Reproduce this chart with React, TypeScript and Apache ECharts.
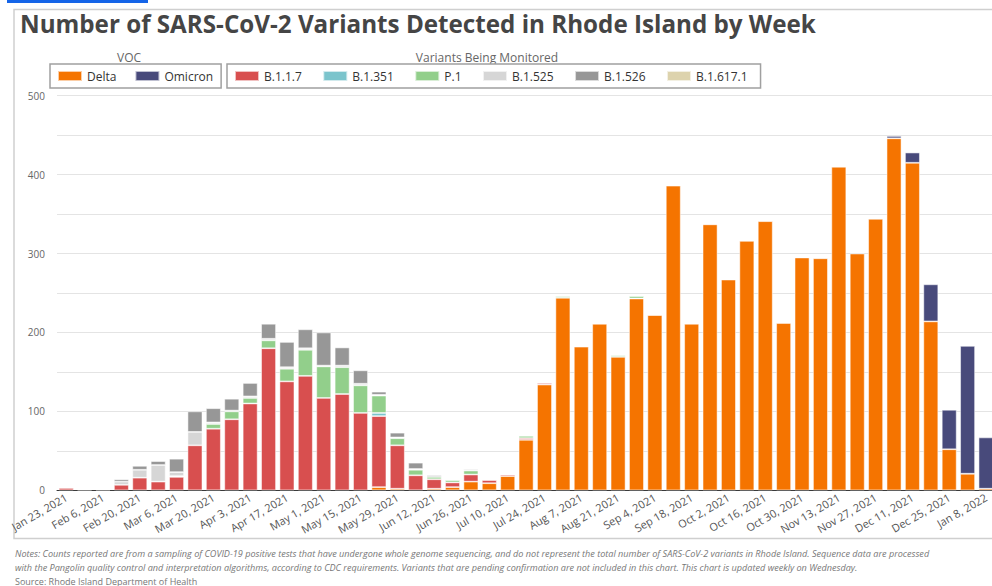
import React, { useEffect, useRef } from "react";
import * as echarts from "echarts";

const weeks = [
  "Jan 23, 2021", "Jan 30, 2021", "Feb 6, 2021", "Feb 13, 2021", "Feb 20, 2021", "Feb 27, 2021",
  "Mar 6, 2021", "Mar 13, 2021", "Mar 20, 2021", "Mar 27, 2021", "Apr 3, 2021", "Apr 10, 2021",
  "Apr 17, 2021", "Apr 24, 2021", "May 1, 2021", "May 8, 2021", "May 15, 2021", "May 22, 2021",
  "May 29, 2021", "Jun 5, 2021", "Jun 12, 2021", "Jun 19, 2021", "Jun 26, 2021", "Jul 3, 2021",
  "Jul 10, 2021", "Jul 17, 2021", "Jul 24, 2021", "Jul 31, 2021", "Aug 7, 2021", "Aug 14, 2021",
  "Aug 21, 2021", "Aug 28, 2021", "Sep 4, 2021", "Sep 11, 2021", "Sep 18, 2021", "Sep 25, 2021",
  "Oct 2, 2021", "Oct 9, 2021", "Oct 16, 2021", "Oct 23, 2021", "Oct 30, 2021", "Nov 6, 2021",
  "Nov 13, 2021", "Nov 20, 2021", "Nov 27, 2021", "Dec 4, 2021", "Dec 11, 2021", "Dec 18, 2021",
  "Dec 25, 2021", "Jan 1, 2022", "Jan 8, 2022",
];

const delta = [
  0, 0, 0, 0, 0, 0, 0, 0, 0, 0, 0, 0, 0, 0, 0, 0, 0, 4, 2, 0, 2, 4, 11, 9, 18, 64,
  134, 244, 182, 211, 169, 243, 222, 386, 211, 337, 267, 316, 341, 212, 295, 294, 410, 300, 344, 446,
  415, 214, 52, 21, 2,
];
const omicron = [
  0, 0, 0, 0, 0, 0, 0, 0, 0, 0, 0, 0, 0, 0, 0, 0, 0, 0, 0, 0, 0, 0, 0, 0, 0, 0,
  0, 0, 0, 0, 0, 0, 0, 0, 0, 0, 0, 0, 0, 0, 0, 0, 0, 0, 0, 3, 13, 47, 50, 162, 65,
];
const b117 = [
  3, 1, 1, 7, 16, 11, 17, 57, 78, 90, 110, 180, 138, 145, 117, 122, 98, 90, 55, 19, 12, 6, 9, 4, 2, 2,
  2, 0, 0, 0, 0, 0, 0, 0, 0, 0, 0, 0, 0, 0, 0, 0, 0, 0, 0, 0, 0, 0, 0, 0, 0,
];
const b1351 = [
  0, 0, 0, 0, 0, 0, 0, 0, 0, 0, 0, 0, 0, 0, 0, 0, 0, 4, 0, 0, 0, 0, 0, 0, 0, 0,
  0, 0, 0, 0, 0, 0, 0, 0, 0, 0, 0, 0, 0, 0, 0, 0, 0, 0, 0, 0, 0, 0, 0, 0, 0,
];
const p1 = [
  0, 0, 0, 0, 0, 0, 1, 0, 6, 10, 7, 10, 16, 33, 40, 34, 35, 22, 9, 7, 3, 3, 5, 0, 1, 3,
  1, 2, 1, 1, 2, 3, 1, 1, 0, 1, 0, 0, 1, 0, 1, 0, 1, 0, 1, 0, 0, 0, 0, 0, 0,
];
const b1525 = [
  0, 1, 0, 4, 10, 21, 5, 17, 2, 1, 2, 2, 2, 2, 1, 2, 2, 1, 1, 1, 0, 1, 2, 0, 0, 0,
  0, 0, 0, 0, 0, 0, 0, 0, 0, 0, 0, 0, 0, 0, 0, 0, 0, 0, 0, 0, 0, 0, 0, 0, 0,
];
const b1526 = [
  1, 1, 1, 3, 5, 5, 17, 26, 18, 15, 17, 19, 32, 24, 42, 23, 17, 4, 6, 8, 2, 0, 0, 1, 0, 0,
  0, 1, 0, 0, 0, 0, 0, 0, 0, 0, 0, 0, 0, 0, 0, 0, 0, 0, 0, 0, 0, 0, 0, 0, 0,
];
const b16171 = [
  0, 0, 0, 0, 0, 0, 0, 0, 0, 0, 0, 0, 0, 0, 0, 0, 0, 0, 0, 0, 0, 0, 0, 0, 0, 0,
  0, 0, 0, 0, 0, 0, 0, 0, 0, 0, 0, 0, 0, 0, 0, 0, 0, 0, 0, 0, 0, 0, 0, 0, 0,
];

const vocNames = ["Delta", "Omicron"];
const monitoredNames = ["B.1.1.7", "B.1.351", "P.1", "B.1.525", "B.1.526", "B.1.617.1"];
const seriesNames = [...vocNames, ...monitoredNames];
const seriesValues = [delta, omicron, b117, b1351, p1, b1525, b1526, b16171];
const seriesColors = ["#f57400", "#484a7b", "#d84f4f", "#7bc4cc", "#92cf8b", "#d6d6d6", "#979797", "#ddd3ad"];

const yTicks = [0, 100, 200, 300, 400, 500];

const titleText = "Number of SARS-CoV-2 Variants Detected in Rhode Island by Week";
const noteLines = [
  "Notes: Counts reported are from a sampling of COVID-19 positive tests that have undergone whole genome sequencing, and do not represent the total number of SARS-CoV-2 variants in Rhode Island. Sequence data are processed",
  "with the Pangolin quality control and interpretation algorithms, according to CDC requirements. Variants that are pending confirmation are not included in this chart. This chart is updated weekly on Wednesday.",
];
const sourceText = "Source: Rhode Island Department of Health";

const FONT = "'Open Sans', 'Noto Sans', sans-serif";

export default function App() {
  const ref = useRef<HTMLDivElement>(null);

  useEffect(() => {
    if (!ref.current) return;
    const chart = echarts.init(ref.current, null, { renderer: "svg" });

    const legendCommon = {
      top: 64,
      orient: "horizontal",
      icon: "rect",
      itemWidth: 24,
      itemHeight: 10,
      borderColor: "#a0a0a0",
      borderWidth: 1.5,
      backgroundColor: "#fff",
      selectedMode: false,
      textStyle: { fontFamily: FONT, fontSize: 12, color: "#333" },
    };

    const option: any = {
      animation: false,
      backgroundColor: "#fff",
      textStyle: { fontFamily: FONT },
      grid: { left: 57, right: 4.8, top: 95.7, bottom: 95.7, containLabel: false },
      legend: [
        { ...legendCommon, data: vocNames, left: 50, padding: [6, 8, 6, 7], itemGap: 18 },
        { ...legendCommon, data: monitoredNames, left: 227, padding: [6, 13, 6, 7], itemGap: 20.5 },
      ],
      xAxis: {
        type: "category",
        data: weeks,
        axisLine: { lineStyle: { color: "#3a3a3a", width: 1 } },
        axisTick: { show: false },
        axisLabel: { interval: 1, rotate: 30, fontSize: 11, color: "#555", margin: 6, fontFamily: FONT },
        splitLine: { show: false },
      },
      yAxis: {
        type: "value",
        min: 0,
        max: 500,
        interval: 50,
        axisLine: { show: false },
        axisTick: { show: false },
        axisLabel: {
          fontSize: 10,
          color: "#666",
          margin: 12,
          fontFamily: FONT,
          formatter: (v: number) => (yTicks.includes(v) ? String(v) : ""),
        },
        splitLine: { lineStyle: { color: "#e4e4e4", width: 1 } },
      },
      series: seriesNames.map((name, i) => ({
        name,
        type: "bar",
        stack: "total",
        barCategoryGap: "19%",
        itemStyle: { color: seriesColors[i], borderColor: "rgba(255,255,255,0.65)", borderWidth: 0.8 },
        data: seriesValues[i].map((v) => (v === 0 ? "-" : v)),
      })),
      graphic: [
        { type: "rect", silent: true, shape: { x: 7, y: 0, width: 141, height: 3 }, style: { fill: "#1565e8" } },
        {
          type: "rect",
          silent: true,
          z: -10,
          shape: { x: 14, y: 9.5, width: 1000, height: 529 },
          style: { fill: "none", stroke: "#cfcfcf", lineWidth: 1.5 },
        },
        {
          type: "text",
          left: 20,
          top: 11.5,
          style: { text: titleText, font: `bold 24.2px ${FONT}`, fill: "#454545" },
        },
        {
          type: "text",
          x: 129,
          y: 57,
          style: { text: "VOC", font: `12px ${FONT}`, fill: "#666", align: "center", verticalAlign: "middle" },
        },
        {
          type: "text",
          x: 487,
          y: 57,
          style: {
            text: "Variants Being Monitored",
            font: `12px ${FONT}`,
            fill: "#666",
            align: "center",
            verticalAlign: "middle",
          },
        },
        {
          type: "text",
          x: 15,
          y: 553,
          style: { text: noteLines[0], font: `italic 9.1px ${FONT}`, fill: "#777", verticalAlign: "middle" },
        },
        {
          type: "text",
          x: 15,
          y: 567,
          style: { text: noteLines[1], font: `italic 9.1px ${FONT}`, fill: "#777", verticalAlign: "middle" },
        },
        {
          type: "text",
          x: 15,
          y: 581,
          style: { text: sourceText, font: `9px ${FONT}`, fill: "#777", verticalAlign: "middle" },
        },
      ],
    };

    chart.setOption(option);
    return () => chart.dispose();
  }, []);

  return (
    <div
      style={{
        position: "fixed",
        left: 0,
        top: 0,
        width: 992,
        height: 586,
        overflow: "hidden",
        background: "#fff",
      }}
    >
      <div ref={ref} style={{ width: 1000, height: 586 }} />
    </div>
  );
}
